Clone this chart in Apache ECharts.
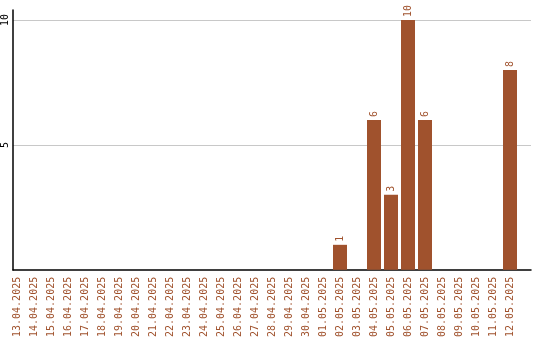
<!DOCTYPE html>
<html><head><meta charset="utf-8">
<script src="https://cdn.jsdelivr.net/npm/echarts@6/dist/echarts.min.js"></script>
<style>html,body{margin:0;padding:0;background:#fff}#c{width:540px;height:340px}</style>
</head><body><div id="c"></div>
<script>
const categories = ['13.04.2025','14.04.2025','15.04.2025','16.04.2025','17.04.2025','18.04.2025','19.04.2025','20.04.2025','21.04.2025','22.04.2025','23.04.2025','24.04.2025','25.04.2025','26.04.2025','27.04.2025','28.04.2025','29.04.2025','30.04.2025','01.05.2025','02.05.2025','03.05.2025','04.05.2025','05.05.2025','06.05.2025','07.05.2025','08.05.2025','09.05.2025','10.05.2025','11.05.2025','12.05.2025'];
const values = [null,null,null,null,null,null,null,null,null,null,null,null,null,null,null,null,null,null,null,1,null,6,3,10,6,null,null,null,null,8];
const yTicks = [0,5,10];
const BROWN = '#a0522d';
const FONT = 'DejaVu Sans Mono';
const chart = echarts.init(document.getElementById('c'), null, {renderer:'canvas'});
chart.setOption({
  animation:false,
  grid:[
    {left:8.5, right:21.5, top:10, bottom:70},
    {left:10, right:9, top:10, bottom:70}
  ],
  xAxis:[
    {type:'category', gridIndex:0, data:categories, boundaryGap:true,
     axisLine:{show:false}, axisTick:{show:false},
     axisLabel:{interval:0, rotate:90, margin:7, color:BROWN, fontFamily:FONT, fontSize:10}},
    {type:'value', gridIndex:1, min:0, max:1, axisLabel:{show:false}, axisTick:{show:false}, splitLine:{show:false},
     axisLine:{show:true, lineStyle:{color:'#000', width:1.5}}}
  ],
  yAxis:[
    {type:'value', gridIndex:0, min:0, max:10.4, show:false},
    {type:'value', gridIndex:1, min:yTicks[0], max:10.4, interval:yTicks[1]-yTicks[0],
     axisLine:{show:true, lineStyle:{color:'#000', width:1.5}}, axisTick:{show:false},
     splitLine:{show:true, showMinLine:false, showMaxLine:false, lineStyle:{color:'#c8c8c8', width:1}},
     axisLabel:{rotate:90, margin:3, color:'#000', fontFamily:FONT, fontSize:10, showMinLabel:false, showMaxLabel:false,
       formatter: v => yTicks.includes(v) && v !== 0 ? String(v) : ''}}
  ],
  series:[{
    type:'bar', xAxisIndex:0, yAxisIndex:0, data:values, barWidth:14,
    itemStyle:{color:BROWN},
    label:{show:true, position:'top', rotate:90, align:'left', verticalAlign:'middle', distance:3,
      color:BROWN, fontFamily:FONT, fontSize:10}
  }]
});
</script></body></html>
